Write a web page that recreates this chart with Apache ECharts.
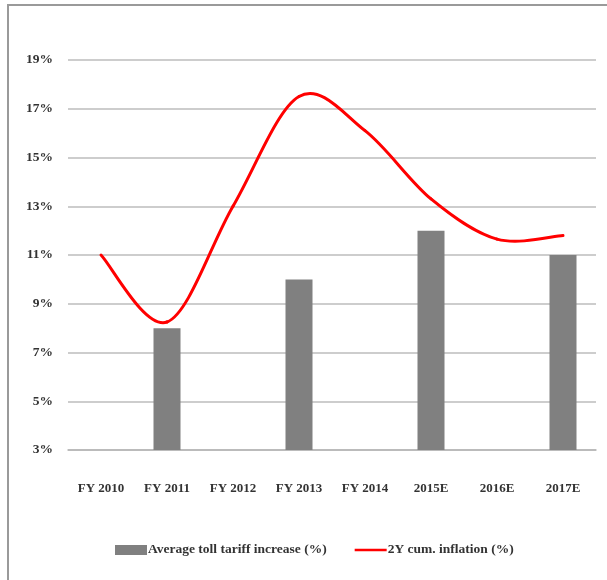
<!DOCTYPE html>
<html>
<head>
<meta charset="utf-8">
<script src="https://cdn.jsdelivr.net/npm/echarts@6/dist/echarts.min.js"></script>
<style>
html,body{margin:0;padding:0;background:#fff;}
#chart{width:607px;height:580px;}
</style>
</head>
<body>
<div id="chart"></div>
<script>
const categories = ['FY 2010','FY 2011','FY 2012','FY 2013','FY 2014','2015E','2016E','2017E'];
const tariffIncrease = ['-', 8, '-', 10, '-', 12, '-', 11];
const inflation2Y = [11, 8.25, 13, 17.5, 16.1, 13.3, 11.65, 11.8];
const seriesNames = ['Average toll tariff increase (%)', '2Y cum. inflation (%)'];

const FONT = '"Liberation Serif", "Times New Roman", serif';
const N = inflation2Y.length;

// Smooth (Catmull-Rom style, like spreadsheet smoothed lines) drawn via axis coordinates
function renderSmooth(params, api) {
  const i = params.dataIndex;
  if (i >= N - 1) return null;
  const P = k => api.coord([Math.min(Math.max(k, 0), N - 1), inflation2Y[Math.min(Math.max(k, 0), N - 1)]]);
  const p0 = P(i - 1), p1 = P(i), p2 = P(i + 1), p3 = P(i + 2);
  return {
    type: 'bezierCurve',
    shape: {
      x1: p1[0], y1: p1[1], x2: p2[0], y2: p2[1],
      cpx1: p1[0] + (p2[0] - p0[0]) / 6, cpy1: p1[1] + (p2[1] - p0[1]) / 6,
      cpx2: p2[0] - (p3[0] - p1[0]) / 6, cpy2: p2[1] - (p3[1] - p1[1]) / 6
    },
    style: {stroke: '#ff0000', lineWidth: 3, fill: null, lineCap: 'round'}
  };
}

const chart = echarts.init(document.getElementById('chart'), null, {renderer:'canvas'});
chart.setOption({
  animation: false,
  backgroundColor: '#fff',
  graphic: [{
    type: 'rect', silent: true,
    shape: {x: 8, y: 5, width: 800, height: 800},
    style: {fill: 'none', stroke: '#9a9a9a', lineWidth: 2}
  }],
  grid: {left: 68, right: 11, top: 60, bottom: 130, containLabel: false},
  legend: {
    top: 538, left: 110,
    itemGap: 28, itemWidth: 32, itemHeight: 10,
    textStyle: {fontFamily: FONT, fontSize: 13.5, fontWeight: 'bold', color: '#333', padding:[0,0,0,-4]},
    data: [
      {name: seriesNames[0], icon: 'rect'},
      {name: seriesNames[1], icon: 'path://M0,0 H32 V2.6 H0 Z'}
    ]
  },
  xAxis: {
    type: 'category', data: categories,
    axisLine: {lineStyle: {color: '#b5b5b5', width: 1.5}},
    axisTick: {show: false},
    axisLabel: {fontFamily: FONT, fontSize: 13, fontWeight: 'bold', color: '#333', margin: 32}
  },
  yAxis: {
    type: 'value', min: 3, max: 19, interval: 2,
    axisLine: {show: false}, axisTick: {show: false},
    axisLabel: {formatter: '{value}%', fontFamily: FONT, fontSize: 13.5, fontWeight: 'bold', color: '#333', margin: 15},
    splitLine: {lineStyle: {color: '#bdbdbd', width: 1.5}}
  },
  series: [
    {
      name: seriesNames[0], type: 'bar', data: tariffIncrease,
      barWidth: 27, itemStyle: {color: '#808080'}
    },
    {
      name: seriesNames[1], type: 'custom',
      data: inflation2Y.map((v, i) => [i, v]),
      encode: {x: 0, y: 1},
      renderItem: renderSmooth,
      itemStyle: {color: '#ff0000'},
      z: 3
    }
  ]
});
</script>
</body>
</html>
